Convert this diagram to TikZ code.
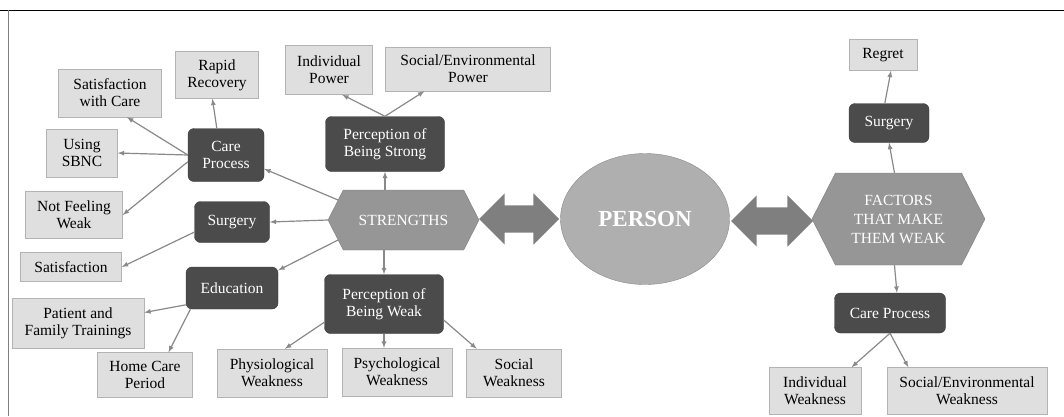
\documentclass[tikz,border=0pt]{standalone}
\usepackage{fontspec}
\setmainfont{LiberationSerif}[Extension=.ttf, UprightFont=*-Regular, BoldFont=*-Bold,
	ItalicFont=*-Italic, BoldItalicFont=*-BoldItalic]
\usepackage{tikz}
\usetikzlibrary{arrows}
\usetikzlibrary{shapes.symbols, shapes.arrows, shapes.geometric}

\definecolor{leaffill}{HTML}{DFDFDF}
\definecolor{leafline}{HTML}{B3B3B3}
\definecolor{topicfill}{HTML}{4B4B4B}
\definecolor{topicline}{HTML}{3A3A3A}
\definecolor{hubfill}{HTML}{969696}
\definecolor{hubline}{HTML}{7E7E7E}
\definecolor{personfill}{HTML}{AFAFAF}
\definecolor{personline}{HTML}{8A8A8A}
\definecolor{linkgray}{HTML}{898989}
\definecolor{bigarrowfill}{HTML}{7F7F7F}

\begin{document}
\begin{tikzpicture}[x=1pt, y=-1pt,
				    leaf/.style={draw=leafline, fill=leaffill, text=black, align=center,
				    			 inner sep=1pt, font=\rmfamily\fontsize{15.5}{17}\selectfont},
				    topic/.style={draw=topicline, fill=topicfill, rounded corners=6pt,
				    			  text=white, align=center, inner sep=1pt,
				    			  font=\rmfamily\fontsize{15.5}{17}\selectfont},
				    hub/.style={signal, signal to=east and west, signal pointer angle=126,
				    			draw=hubline, fill=hubfill, text=white, align=center,
				    			inner sep=1pt, font=\rmfamily\fontsize{15.5}{19}\selectfont},
				    bigarrow/.style={double arrow, double arrow head extend=12pt,
				    				 double arrow tip angle=90, fill=bigarrowfill,
				    				 draw=none, inner xsep=0pt, inner ysep=13.5pt},
				    link/.style={-latex, color=linkgray, line width=1.2pt}]
	\useasboundingbox (0,0) rectangle (1064,416);
	\draw[black, line width=0.8pt] (0,10) -- (1064,10);
	\draw[gray, line width=1pt] (8,10) -- (8,416);

	% left side: strengths
	\node[hub, minimum width=151, minimum height=60] (strengths) at (403.5,220) {STRENGTHS};
	\node[topic, minimum width=119, minimum height=55] (strongp) at (385,144) {Perception of\\Being Strong};
	\node[topic, minimum width=119, minimum height=59] (weakp) at (384,304) {Perception of\\Being Weak};
	\node[topic, minimum width=76, minimum height=53] (carel) at (226,155) {Care\\Process};
	\node[topic, minimum width=75, minimum height=41] (surgl) at (232,222) {Surgery};
	\node[topic, minimum width=92, minimum height=42] (edu) at (232,288) {Education};
	\node[leaf, minimum width=87, minimum height=49] (indpow) at (329,70) {Individual\\Power};
	\node[leaf, minimum width=165, minimum height=44] (socpow) at (468,69) {Social/Environmental\\Power};
	\node[leaf, minimum width=103, minimum height=48] (satcare) at (110,93) {Satisfaction\\with Care};
	\node[leaf, minimum width=83, minimum height=47] (rapid) at (217,75) {Rapid\\Recovery};
	\node[leaf, minimum width=71, minimum height=48] (sbnc) at (82,153) {Using\\SBNC};
	\node[leaf, minimum width=97, minimum height=47] (notweak) at (74,215) {Not Feeling\\Weak};
	\node[leaf, minimum width=101, minimum height=29] (satis) at (71,267) {Satisfaction};
	\node[leaf, minimum width=132, minimum height=50] (trainings) at (78,323) {Patient and\\Family Trainings};
	\node[leaf, minimum width=95, minimum height=45] (homecare) at (145,375) {Home Care\\Period};
	\node[leaf, minimum width=110, minimum height=48] (physio) at (272,373) {Physiological\\Weakness};
	\node[leaf, minimum width=110, minimum height=48] (psycho) at (397,372) {Psychological\\Weakness};
	\node[leaf, minimum width=95, minimum height=48] (socweak) at (514,373) {Social\\Weakness};

	% middle
	\node[ellipse, draw=personline, fill=personfill, text=white, inner sep=0pt,
		  minimum width=169, minimum height=131,
		  font=\rmfamily\fontsize{23}{25}\selectfont\bfseries] (person) at (645,219) {PERSON};
	\node[bigarrow, minimum height=80, minimum width=51] (arrowl) at (519,219) {};
	\node[bigarrow, minimum height=82, minimum width=51] (arrowr) at (772,221) {};

	% right side: weakness
	\node[hub, minimum width=173, minimum height=92] (factors) at (898.5,219) {FACTORS\\THAT MAKE\\THEM WEAK};
	\node[topic, minimum width=80, minimum height=39] (surgr) at (889,123) {Surgery};
	\node[leaf, minimum width=68, minimum height=31] (regret) at (883,55) {Regret};
	\node[topic, minimum width=111, minimum height=40] (carer) at (890,313) {Care Process};
	\node[leaf, minimum width=92, minimum height=47] (indweak) at (815,391) {Individual\\Weakness};
	\node[leaf, minimum width=160, minimum height=47] (socenv) at (967,391) {Social/Environmental\\Weakness};

	\path[link] 	(strengths.163)  edge   (carel.-20);
	\path[link] 	(strengths.west)  edge   (surgl.east);
	\path[link] 	(strengths.197)  edge   (edu.21);
	\path[link] 	(strengths.north -| strongp.south)  edge   (strongp.south);
	\path[link] 	(strengths.south -| weakp.north)  edge   (weakp.north);
	\path[link] 	(strongp.north)  edge   (indpow.-62);
	\path[link] 	(strongp.north)  edge   (socpow.-153);
	\path[link] 	(carel.west)  edge   (satcare.-55);
	\path[link] 	(carel.109)  edge   (rapid.-101);
	\path[link] 	(carel.west)  edge   (sbnc.east);
	\path[link] 	(carel.190)  edge   (notweak.east);
	\path[link] 	(surgl.195)  edge   (satis.east);
	\path[link] 	(edu.200)  edge   (trainings.9);
	\path[link] 	(edu.207)  edge   (homecare.44);
	\path[link] 	(weakp.197)  edge   (physio.62);
	\path[link] 	(weakp.south)  edge   (weakp.south |- psycho.north);
	\path[link] 	(weakp.-15)  edge   (socweak.147);
	\path[link] 	(factors.95)  edge   (surgr.south);
	\path[link] 	(surgr.102)  edge   (regret.-63);
	\path[link] 	(factors.-95)  edge   (carer.71);
	\path[link] 	(carer.south)  edge   (indweak.33);
	\path[link] 	(carer.south)  edge   (socenv.158);

\end{tikzpicture}
\end{document}
